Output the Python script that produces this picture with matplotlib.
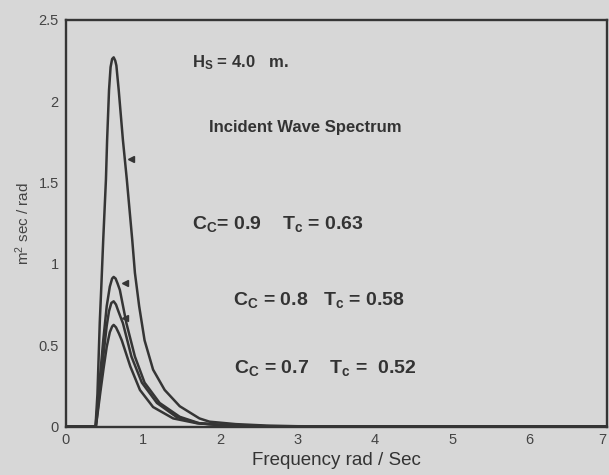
"""
Incident and transmitted wave spectra (Hs = 4.0 m)
"""

import matplotlib
matplotlib.use("Agg")
import matplotlib.pyplot as plt

# incident wave spectrum
x_inc = [0.0, 0.385, 0.41, 0.44, 0.46, 0.485, 0.52, 0.535, 0.56, 0.58, 0.60, 0.62, 0.64, 0.655,
         0.685, 0.74, 0.79, 0.86, 0.895, 0.95, 1.02, 1.13, 1.28, 1.475, 1.73, 1.86, 2.2, 2.6,
         3.0, 4.0, 7.0]
y_inc = [0.0, 0.0, 0.2, 0.64, 0.86, 1.15, 1.52, 1.76, 2.07, 2.21, 2.26, 2.27, 2.25, 2.22,
         2.07, 1.76, 1.52, 1.15, 0.945, 0.74, 0.53, 0.35, 0.225, 0.125, 0.05, 0.03, 0.015, 0.006,
         0.002, 0.0, 0.0]

# Cc = 0.9, Tc = 0.63
x_09 = [0.0, 0.385, 0.41, 0.44, 0.485, 0.53, 0.57, 0.60, 0.62, 0.645, 0.67, 0.70, 0.785, 0.895,
        1.02, 1.215, 1.475, 1.73, 2.1, 2.6, 3.0, 7.0]
y_09 = [0.0, 0.0, 0.12, 0.29, 0.53, 0.74, 0.86, 0.91, 0.92, 0.91, 0.88, 0.84, 0.635, 0.43,
        0.27, 0.145, 0.06, 0.02, 0.008, 0.002, 0.0, 0.0]

# Cc = 0.8, Tc = 0.58
x_08 = [0.0, 0.39, 0.42, 0.45, 0.49, 0.53, 0.56, 0.59, 0.62, 0.65, 0.68, 0.74, 0.85, 0.985,
        1.18, 1.43, 1.7, 2.0, 2.5, 3.0, 7.0]
y_08 = [0.0, 0.0, 0.13, 0.26, 0.45, 0.62, 0.71, 0.76, 0.77, 0.75, 0.71, 0.635, 0.43, 0.27,
        0.145, 0.06, 0.022, 0.008, 0.002, 0.0, 0.0]

# Cc = 0.7, Tc = 0.52
x_07 = [0.0, 0.39, 0.42, 0.45, 0.49, 0.53, 0.57, 0.60, 0.62, 0.65, 0.69, 0.725, 0.835, 0.96,
        1.13, 1.39, 1.7, 2.1, 2.6, 3.0, 7.0]
y_07 = [0.0, 0.0, 0.11, 0.22, 0.36, 0.49, 0.58, 0.615, 0.625, 0.61, 0.57, 0.53, 0.37, 0.225,
        0.12, 0.05, 0.02, 0.006, 0.002, 0.0, 0.0]

# small arrow heads on the curves
arrow_x = [0.84, 0.765, 0.77]
arrow_y = [1.645, 0.885, 0.67]

xticks = [0, 1, 2, 3, 4, 5, 6, 7]
yticks = [0, 0.5, 1, 1.5, 2, 2.5]
ytick_labels = ["0", "0.5", "1", "1.5", "2", "2.5"]

bg = "#d7d7d7"
ink = "#353535"

plt.rcParams["font.family"] = ["Liberation Sans", "DejaVu Sans"]
plt.rcParams["mathtext.fontset"] = "custom"
plt.rcParams["mathtext.rm"] = "Liberation Sans:bold"
plt.rcParams["mathtext.it"] = "Liberation Sans:bold"
plt.rcParams["mathtext.bf"] = "Liberation Sans:bold"

fig = plt.figure(figsize=(6.09, 4.75), dpi=100, facecolor=bg)
ax = fig.add_axes([0.108, 0.102, 0.888, 0.856], facecolor=bg)

for s in ax.spines.values():
    s.set_linewidth(1.7)
    s.set_color(ink)

ax.plot(x_inc, y_inc, "-", color=ink, lw=1.8)
ax.plot(x_09, y_09, "-", color=ink, lw=1.8)
ax.plot(x_08, y_08, "-", color=ink, lw=1.8)
ax.plot(x_07, y_07, "-", color=ink, lw=1.8)
ax.plot(arrow_x, arrow_y, "<", color=ink, ms=4, ls="none")

ax.set_xlim(0, 7)
ax.set_ylim(0, 2.5)
ax.set_xticks(xticks)
ax.set_yticks(yticks)
ax.set_yticklabels(ytick_labels)
ax.tick_params(axis="x", length=0, labelsize=10.5, labelcolor="#444444", pad=5)
ax.tick_params(axis="y", length=0, labelsize=10.5, labelcolor="#444444", pad=5)
# last x label sits at the figure edge; anchor it on its right side so it stays visible
ax.get_xticklabels()[-1].set_horizontalalignment("right")

ax.set_xlabel("Frequency rad / Sec", fontsize=13.5, color="#333333", labelpad=3)
ax.set_ylabel("m$^{\\mathregular{2}}$ sec / rad", fontsize=11, color="#444444", labelpad=5)

ax.text(1.64, 2.24, "H$_\\mathrm{S}$ = 4.0   m.", fontsize=12, fontweight="bold",
        color="#333333", va="center")
ax.text(1.86, 1.84, "Incident Wave Spectrum", fontsize=12, fontweight="bold",
        color="#333333", va="center")
ax.text(1.63, 1.245, "C$_\\mathrm{C}$= 0.9    T$_\\mathrm{c}$ = 0.63", fontsize=14,
        fontweight="bold", color="#333333", va="center")
ax.text(2.16, 0.78, "C$_\\mathrm{C}$ = 0.8   T$_\\mathrm{c}$ = 0.58", fontsize=14,
        fontweight="bold", color="#333333", va="center")
ax.text(2.18, 0.36, "C$_\\mathrm{C}$ = 0.7    T$_\\mathrm{c}$ =  0.52", fontsize=14,
        fontweight="bold", color="#333333", va="center")

fig.savefig("out.png", dpi=100, facecolor=bg)
